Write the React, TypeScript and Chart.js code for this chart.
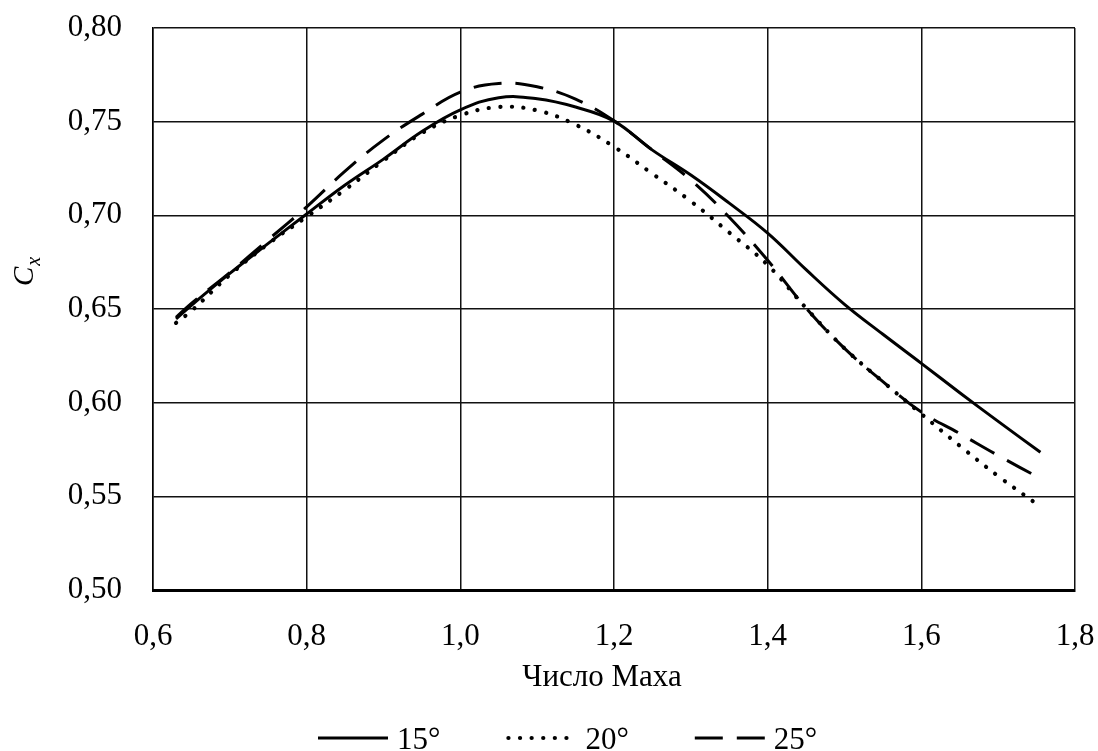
import { useEffect, useRef } from "react";
import { Chart, registerables } from "chart.js";

Chart.register(...registerables);

// ---- Data ----
const machNumbers = [
  0.63, 0.65, 0.7, 0.75, 0.8, 0.85, 0.9, 0.95, 1.0, 1.05, 1.1, 1.15, 1.2,
  1.25, 1.3, 1.35, 1.4, 1.45, 1.5, 1.55, 1.6, 1.65, 1.7, 1.755,
];
const cx15 = [
  0.6447, 0.652, 0.669, 0.685, 0.7007, 0.7162, 0.73, 0.7447, 0.7563, 0.7628,
  0.7622, 0.7578, 0.7503, 0.7348, 0.7215, 0.7065, 0.6905, 0.671, 0.6525,
  0.6365, 0.621, 0.6053, 0.59, 0.5735,
];
const cx20 = [
  0.6426, 0.649, 0.6682, 0.6848, 0.6992, 0.7137, 0.7292, 0.7439, 0.7534,
  0.7578, 0.756, 0.7484, 0.7366, 0.7222, 0.7075, 0.6908, 0.6735, 0.6505, 0.629,
  0.6112, 0.594, 0.577, 0.5608, 0.5445,
];
const cx25 = [
  0.6455, 0.653, 0.6695, 0.687, 0.7045, 0.7236, 0.7403, 0.7539, 0.7658,
  0.7704, 0.7686, 0.762, 0.7505, 0.7348, 0.7188, 0.699, 0.676, 0.6505, 0.629,
  0.6112, 0.595, 0.5835, 0.5718, 0.5595,
];
const seriesLabels = ["15°", "20°", "25°"];

const xTickValues = [0.6, 0.8, 1.0, 1.2, 1.4, 1.6, 1.8];
const xTickLabels = ["0,6", "0,8", "1,0", "1,2", "1,4", "1,6", "1,8"];
const yTickValues = [0.5, 0.55, 0.6, 0.65, 0.7, 0.75, 0.8];
const yTickLabels = ["0,50", "0,55", "0,60", "0,65", "0,70", "0,75", "0,80"];

const xTitle = "Число Маха";
const yTitleMain = "C";
const yTitleSub = "x";

const FONT_FAMILY = '"Liberation Serif", "Times New Roman", serif';
const FONT_SIZE = 31;

const textPlugin = {
  id: "extraText",
  afterDraw(chart: any) {
    const ctx: CanvasRenderingContext2D = chart.ctx;
    const area = chart.chartArea;
    ctx.save();
    ctx.fillStyle = "#000";

    // X axis title
    ctx.font = `${FONT_SIZE}px ${FONT_FAMILY}`;
    ctx.textAlign = "center";
    ctx.textBaseline = "alphabetic";
    ctx.fillText(xTitle, (area.left + area.right) / 2 - 12, area.bottom + 96);

    // Y axis title (rotated, italic C with subscript x)
    ctx.save();
    ctx.translate(33, 286);
    ctx.rotate(-Math.PI / 2);
    ctx.textAlign = "left";
    ctx.font = `italic 29px ${FONT_FAMILY}`;
    ctx.fillText(yTitleMain, 0, 0);
    const cw = ctx.measureText(yTitleMain).width;
    ctx.font = `italic 20px ${FONT_FAMILY}`;
    ctx.fillText(yTitleSub, cw + 1, 7);
    ctx.restore();

    // Legend
    const ly = 738;
    let lx = 318;
    const sampleLen = 70;
    ctx.font = `${FONT_SIZE}px ${FONT_FAMILY}`;
    ctx.textAlign = "left";
    ctx.textBaseline = "alphabetic";
    chart.data.datasets.forEach((ds: any) => {
      ctx.save();
      ctx.strokeStyle = ds.borderColor;
      ctx.lineWidth = ds.borderWidth;
      ctx.lineCap = ds.borderCapStyle || "butt";
      ctx.setLineDash(ds.borderDash || []);
      ctx.beginPath();
      ctx.moveTo(lx + (ds.borderCapStyle === "round" ? 2 : 0), ly);
      ctx.lineTo(lx + sampleLen, ly);
      ctx.stroke();
      ctx.restore();
      const tx = lx + sampleLen + 9;
      ctx.fillText(ds.label, tx, 749);
      lx = tx + ctx.measureText(ds.label).width + 66;
    });
    ctx.restore();
  },
};

export default function App() {
  const canvasRef = useRef<HTMLCanvasElement | null>(null);

  useEffect(() => {
    document.body.style.margin = "0";
    const canvas = canvasRef.current;
    if (!canvas) return;

    const toPoints = (ys: number[]) =>
      machNumbers.map((x, i) => ({ x, y: ys[i] }));

    const chart = new Chart(canvas, {
      type: "line",
      data: {
        datasets: [
          {
            label: seriesLabels[0],
            data: toPoints(cx15),
            borderColor: "#000",
            borderWidth: 3,
            pointRadius: 0,
            tension: 0.4,
            fill: false,
          },
          {
            label: seriesLabels[1],
            data: toPoints(cx20),
            borderColor: "#000",
            borderWidth: 4.2,
            borderDash: [0.1, 11.5],
            borderCapStyle: "round",
            pointRadius: 0,
            tension: 0.4,
            fill: false,
          },
          {
            label: seriesLabels[2],
            data: toPoints(cx25),
            borderColor: "#000",
            borderWidth: 3,
            borderDash: [28, 14],
            pointRadius: 0,
            tension: 0.4,
            fill: false,
          },
        ],
      },
      options: {
        responsive: false,
        animation: false,
        devicePixelRatio: 1,
        layout: { padding: { left: 0, right: 23, top: 28, bottom: 97 } },
        plugins: {
          legend: { display: false },
          tooltip: { enabled: false },
        },
        scales: {
          x: {
            type: "linear",
            min: 0.6,
            max: 1.8,
            afterBuildTicks: (s: any) => {
              s.ticks = xTickValues.map((v) => ({ value: v }));
            },
            afterFit: (s: any) => {
              s.height = 64;
              s.paddingLeft = 0;
              s.paddingRight = 0;
            },
            ticks: {
              autoSkip: false,
              maxRotation: 0,
              padding: 28,
              color: "#000",
              font: { family: FONT_FAMILY, size: FONT_SIZE },
              callback: (_v: any, i: number) => xTickLabels[i],
            },
            grid: { color: "#111", lineWidth: 1.5, drawTicks: false },
            border: { color: "#000", width: 3 },
          },
          y: {
            type: "linear",
            min: 0.5,
            max: 0.8,
            afterBuildTicks: (s: any) => {
              s.ticks = yTickValues.map((v) => ({ value: v }));
            },
            afterFit: (s: any) => {
              s.width = 153;
              s.paddingTop = 0;
              s.paddingBottom = 0;
            },
            ticks: {
              padding: 31,
              color: "#000",
              font: { family: FONT_FAMILY, size: FONT_SIZE },
              callback: (_v: any, i: number) => yTickLabels[i],
            },
            grid: { color: "#111", lineWidth: 1.5, drawTicks: false },
            border: { color: "#000", width: 1.5 },
          },
        },
      },
      plugins: [textPlugin],
    });

    return () => chart.destroy();
  }, []);

  return (
    <div style={{ width: 1098, height: 751, position: "relative", background: "#fff" }}>
      <canvas
        ref={canvasRef}
        width={1098}
        height={751}
        style={{ display: "block", width: 1098, height: 751 }}
      />
    </div>
  );
}
